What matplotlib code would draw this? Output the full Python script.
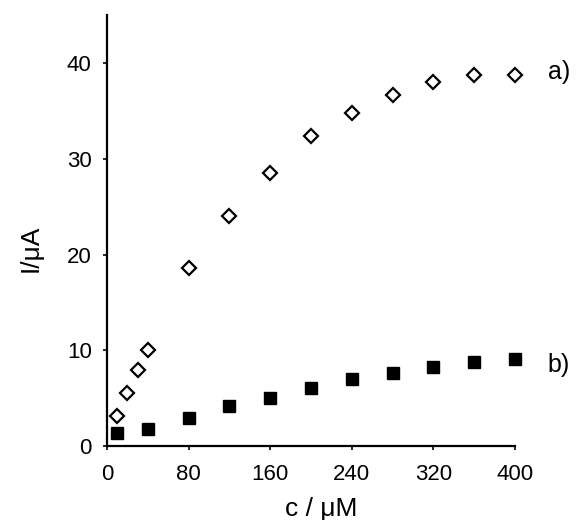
import numpy as np
import matplotlib
matplotlib.use("Agg")
import matplotlib.pyplot as plt

plt.rcParams['font.family'] = ['Liberation Sans', 'DejaVu Sans']

# series a) - open diamonds
conc_a = [10, 20, 30, 40, 80, 120, 160, 200, 240, 280, 320, 360, 400]
curr_a = [3.2, 5.6, 8.0, 10.1, 18.6, 24.0, 28.5, 32.4, 34.8, 36.7, 38.0, 38.7, 38.7]

# series b) - filled squares
conc_b = [10, 40, 80, 120, 160, 200, 240, 280, 320, 360, 400]
curr_b = [1.4, 1.8, 2.95, 4.2, 5.0, 6.1, 7.05, 7.7, 8.3, 8.8, 9.15]

xticks = [0, 80, 160, 240, 320, 400]
yticks = [0, 10, 20, 30, 40]

fig = plt.figure(figsize=(5.77, 5.2), dpi=100)
ax = fig.add_axes([0.1854, 0.1417, 0.7071, 0.8294])

ax.plot(conc_a, curr_a, ls='none', marker='D', ms=7, mfc='white',
        mec='black', mew=1.6, clip_on=False)
ax.plot(conc_b, curr_b, ls='none', marker='s', ms=9, color='black',
        clip_on=False)

ax.text(432, 39.1, 'a)', fontsize=18, ha='left', va='center')
ax.text(432, 8.5, 'b)', fontsize=18, ha='left', va='center')

ax.set_xlim(0, 400)
ax.set_ylim(0, 45)
ax.set_xticks(xticks)
ax.set_yticks(yticks)
ax.spines['top'].set_visible(False)
ax.spines['right'].set_visible(False)
ax.spines['left'].set_linewidth(1.6)
ax.spines['bottom'].set_linewidth(1.6)
ax.tick_params(axis='both', direction='out', length=3, width=1.2, labelsize=16)
ax.tick_params(axis='x', pad=10)
ax.tick_params(axis='y', pad=8)

ax.set_xlabel('c / μM', fontsize=19)
ax.xaxis.set_label_coords(0.526, -0.118)
ax.set_ylabel('I/μA', fontsize=19)
ax.yaxis.set_label_coords(-0.157, 0.46)

fig.savefig('out.png', dpi=100)
